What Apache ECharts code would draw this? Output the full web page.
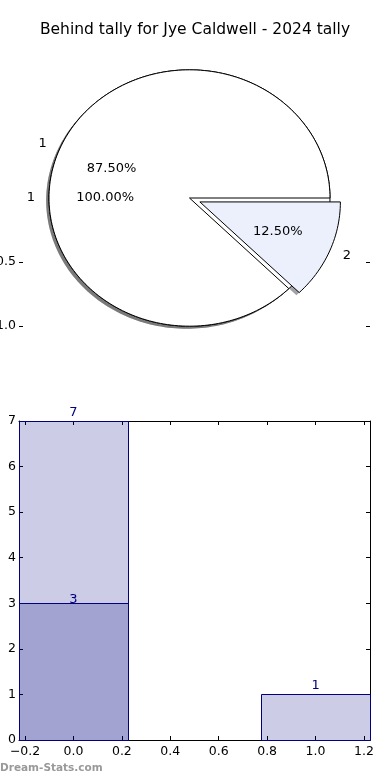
<!DOCTYPE html>
<html><head><meta charset="utf-8">
<script src="https://cdn.jsdelivr.net/npm/echarts@6/dist/echarts.min.js"></script>
<style>html,body{margin:0;padding:0;background:#fff}#c{width:390px;height:780px}</style>
</head><body><div id="c"></div>
<script>
// ---- data ----
const titleText = 'Behind tally for Jye Caldwell - 2024 tally';
const watermarkText = 'Dream-Stats.com';
const pieALabels = ['1'];
const pieAValues = [3];
const pieBLabels = ['1', '2'];
const pieBValues = [7, 1];
const pieBExplode = [0, 0.08];
const pieYTicks = [-1.0, -0.5];
const barLightX = [0, 1];
const barLightValues = [7, 1];
const barDarkX = [0];
const barDarkValues = [3];
const barXTicks = [-0.2, 0.0, 0.2, 0.4, 0.6, 0.8, 1.0, 1.2];
const barYTicks = [0, 1, 2, 3, 4, 5, 6, 7];

// ---- styles ----
const FONT = 'DejaVu Sans';
const pieAColors = ['#ffffff'];
const pieBColors = ['#ffffff', '#ebf0fc'];
const BAR_HALF = 0.225;
const NAVY = '#000080';

function buildWedges(values, labels, explode, colors) {
  const total = values.reduce((a, b) => a + b, 0);
  let cum = 0; const out = [];
  values.forEach((v, i) => {
    const t1 = 360 * cum / total; cum += v; const t2 = 360 * cum / total;
    out.push({ value: [t1, t2, explode ? explode[i] : 0, 100 * v / total], label: labels[i], color: colors[i] });
  });
  return out;
}
const wedges = buildWedges(pieAValues, pieALabels, null, pieAColors)
  .concat(buildWedges(pieBValues, pieBLabels, pieBExplode, pieBColors));

function wedgePoints(api, t1, t2, ex, dx, dy) {
  const mid = (t1 + t2) / 2 * Math.PI / 180;
  const cx = ex * Math.cos(mid) + dx, cy = ex * Math.sin(mid) + dy;
  const pts = [];
  const full = (t2 - t1) >= 359.999;
  if (!full) pts.push(api.coord([cx, cy]));
  const n = Math.max(12, Math.ceil((t2 - t1) / 1.5));
  for (let k = 0; k <= n; k++) {
    const a = (t1 + (t2 - t1) * k / n) * Math.PI / 180;
    pts.push(api.coord([cx + Math.cos(a), cy + Math.sin(a)]));
  }
  return pts;
}
function shadowColor(hex) {
  const r = parseInt(hex.slice(1, 3), 16), g = parseInt(hex.slice(3, 5), 16), b = parseInt(hex.slice(5, 7), 16);
  return 'rgba(' + Math.round(r * 0.3) + ',' + Math.round(g * 0.3) + ',' + Math.round(b * 0.3) + ',0.5)';
}
const fmt1 = v => (v < 0 ? '\u2212' + Math.abs(v).toFixed(1) : v.toFixed(1));

const chart = echarts.init(document.getElementById('c'));
const tickStyle = { color: '#000', width: 1 };
const lblStyle = { color: '#000', fontSize: 12.5, fontFamily: FONT };

function barSeries(xs, vals, labelGap) {
  return {
    type: 'custom', xAxisIndex: 1, yAxisIndex: 2, clip: false, z: 2,
    data: xs.map((x, i) => [x, vals[i]]),
    renderItem(params, api) {
      const x = api.value(0), v = api.value(1);
      const p1 = api.coord([x - BAR_HALF, v]), p2 = api.coord([x + BAR_HALF, 0]);
      const x1 = Math.round(p1[0]) + 0.5, x2 = Math.round(p2[0]) + 0.5;
      const y1 = Math.round(p1[1]) + 0.5, y2 = Math.round(p2[1]) + 0.5;
      return { type: 'group', children: [
        { type: 'rect', shape: { x: x1, y: y1, width: x2 - x1, height: y2 - y1 },
          style: { fill: 'rgba(0,0,128,0.2)', stroke: NAVY, lineWidth: 1 } },
        { type: 'text', x: (p1[0] + p2[0]) / 2, y: p1[1] - labelGap,
          style: { text: String(v), align: 'center', verticalAlign: 'bottom', fill: NAVY, fontSize: 13, fontFamily: FONT } }
      ] };
    }
  };
}

chart.setOption({
  animation: false,
  backgroundColor: '#fff',
  title: { text: titleText, left: 'center', top: 17,
    textStyle: { fontSize: 15.5, fontWeight: 'normal', fontFamily: FONT, color: '#000' } },
  graphic: [{ type: 'text', left: 0, top: 763,
    style: { text: watermarkText, fill: '#999', fontSize: 10.5, fontWeight: 'bold', fontFamily: FONT } }],
  grid: [
    { left: 19, width: 351, top: 57, height: 282, outerBoundsMode: 'none', containLabel: false },
    { left: 19, width: 351, top: 421, height: 319, outerBoundsMode: 'none', containLabel: false }
  ],
  xAxis: [
    { gridIndex: 0, type: 'value', min: -1.2135, max: 1.2847, show: false },
    { gridIndex: 1, type: 'value', min: -0.225, max: 1.225, position: 'bottom',
      axisLine: { show: true, onZero: false, lineStyle: tickStyle },
      axisTick: { show: true, inside: true, length: 4, customValues: barXTicks, lineStyle: tickStyle },
      axisLabel: Object.assign({ customValues: barXTicks, formatter: fmt1, margin: 5 }, lblStyle),
      splitLine: { show: false } },
    { gridIndex: 1, type: 'value', min: -0.225, max: 1.225, position: 'top',
      axisLine: { show: true, onZero: false, lineStyle: tickStyle },
      axisTick: { show: true, inside: true, length: 4, customValues: barXTicks, lineStyle: tickStyle },
      axisLabel: { show: false }, splitLine: { show: false } }
  ],
  yAxis: [
    { gridIndex: 0, type: 'value', min: -1.1, max: 1.1, position: 'left',
      axisLine: { show: false, onZero: false },
      axisTick: { show: true, inside: true, length: 4, customValues: pieYTicks, lineStyle: tickStyle },
      axisLabel: Object.assign({ customValues: pieYTicks, formatter: fmt1, margin: 3 }, lblStyle),
      splitLine: { show: false } },
    { gridIndex: 0, type: 'value', min: -1.1, max: 1.1, position: 'right',
      axisLine: { show: false, onZero: false },
      axisTick: { show: true, inside: true, length: 4, customValues: pieYTicks, lineStyle: tickStyle },
      axisLabel: { show: false }, splitLine: { show: false } },
    { gridIndex: 1, type: 'value', min: 0, max: 7, interval: 1, position: 'left',
      axisLine: { show: true, onZero: false, lineStyle: tickStyle },
      axisTick: { show: true, inside: true, length: 4, customValues: barYTicks, lineStyle: tickStyle },
      axisLabel: Object.assign({ customValues: barYTicks, margin: 3 }, lblStyle),
      splitLine: { show: false } },
    { gridIndex: 1, type: 'value', min: 0, max: 7, interval: 1, position: 'right',
      axisLine: { show: true, onZero: false, lineStyle: tickStyle },
      axisTick: { show: true, inside: true, length: 4, customValues: barYTicks, lineStyle: tickStyle },
      axisLabel: { show: false }, splitLine: { show: false } }
  ],
  series: [
    { // shadows
      type: 'custom', xAxisIndex: 0, yAxisIndex: 0, clip: false, z: 1, silent: true,
      data: wedges.map(w => w.value),
      renderItem(params, api) {
        const w = wedges[params.dataIndex];
        return { type: 'polygon', shape: { points: wedgePoints(api, api.value(0), api.value(1), api.value(2), -0.02, -0.02) },
          style: { fill: shadowColor(w.color), stroke: null } };
      }
    },
    { // wedges
      type: 'custom', xAxisIndex: 0, yAxisIndex: 0, clip: false, z: 2,
      data: wedges.map(w => w.value),
      renderItem(params, api) {
        const w = wedges[params.dataIndex];
        return { type: 'polygon', shape: { points: wedgePoints(api, api.value(0), api.value(1), api.value(2), 0, 0) },
          style: { fill: w.color, stroke: '#000', lineWidth: 1, lineJoin: 'miter' } };
      }
    },
    { // pie labels
      type: 'custom', xAxisIndex: 0, yAxisIndex: 0, clip: false, z: 3,
      data: wedges.map(w => w.value),
      renderItem(params, api) {
        const w = wedges[params.dataIndex];
        const t1 = api.value(0), t2 = api.value(1), ex = api.value(2), pct = api.value(3);
        const mid = (t1 + t2) / 2 * Math.PI / 180;
        const c = Math.cos(mid), s = Math.sin(mid);
        const pl = api.coord([(ex + 1.1) * c, (ex + 1.1) * s]);
        const pp = api.coord([(ex + 0.6) * c, (ex + 0.6) * s]);
        return { type: 'group', children: [
          { type: 'text', x: pl[0], y: pl[1], style: { text: w.label, align: c < 0 ? 'right' : 'left', verticalAlign: 'middle', fill: '#000', fontSize: 13, fontFamily: FONT } },
          { type: 'text', x: pp[0], y: pp[1], style: { text: pct.toFixed(2) + '%', align: 'center', verticalAlign: 'middle', fill: '#000', fontSize: 13, fontFamily: FONT } }
        ] };
      }
    },
    barSeries(barLightX, barLightValues, 2),
    barSeries(barDarkX, barDarkValues, -3)
  ]
});
</script></body></html>
